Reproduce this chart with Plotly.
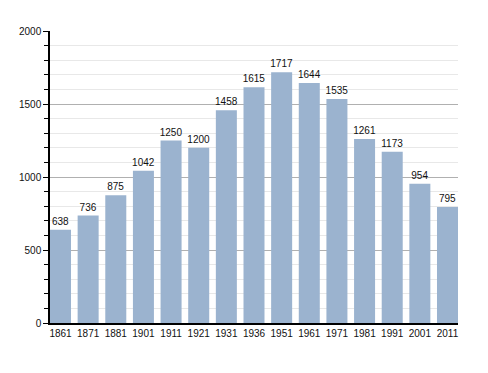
import plotly.graph_objects as go

years = ["1861", "1871", "1881", "1901", "1911", "1921", "1931", "1936",
         "1951", "1961", "1971", "1981", "1991", "2001", "2011"]
population = [638, 736, 875, 1042, 1250, 1200, 1458, 1615,
              1717, 1644, 1535, 1261, 1173, 954, 795]
y_ticks = [0, 500, 1000, 1500, 2000]

fig = go.Figure(go.Bar(
    x=years, y=population,
    text=[str(v) for v in population],
    textposition="outside",
    constraintext="none",
    textfont=dict(size=10, color="#111", family="Liberation Sans, Arial"),
    marker=dict(color="#9bb3cf", line=dict(width=0)),
    width=0.76,
    cliponaxis=False,
))

# page body has an 8px default margin, so margins are offset by 8px
fig.update_layout(
    width=488, height=373,
    margin=dict(l=42, r=38, t=23, b=58, autoexpand=False),
    paper_bgcolor="white", plot_bgcolor="white",
    font=dict(family="Liberation Sans, Arial", size=10, color="#111"),
    showlegend=False,
    xaxis=dict(
        type="category", range=[-0.38, 14.38],
        showline=True, linecolor="black", linewidth=1.5,
        ticks="", showgrid=False, tickfont=dict(size=10),
        automargin=False,
    ),
    yaxis=dict(
        range=[0, 2000], tickvals=y_ticks,
        showline=True, linecolor="black", linewidth=1.5,
        ticks="outside", ticklen=5, tickcolor="black",
        showgrid=True, gridcolor="#b0b0b0", gridwidth=1,
        zeroline=False, tickfont=dict(size=10),
        automargin=False,
        minor=dict(dtick=100, ticks="outside", ticklen=4, tickcolor="black",
                   showgrid=True, gridcolor="#e8e8e8", gridwidth=1),
    ),
    bargap=0.24,
)

fig.write_html("out.html")
